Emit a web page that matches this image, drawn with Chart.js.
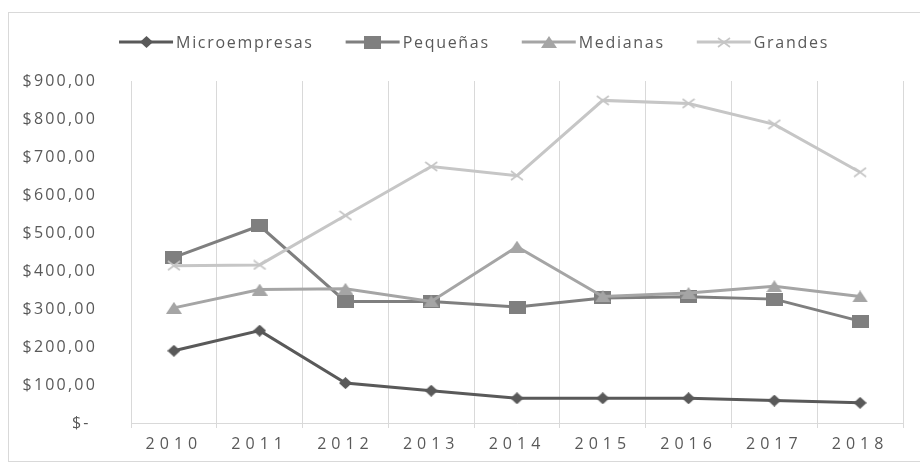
<!DOCTYPE html>
<html lang="es">
<head>
<meta charset="utf-8">
<title>Empresas 2010-2018</title>
<script src="https://cdn.jsdelivr.net/npm/chart.js@4/dist/chart.umd.min.js"></script>
<style>
  html, body { margin: 0; padding: 0; background: #fff; }
  canvas { display: block; }
</style>
</head>
<body>
<canvas id="empresasChart" width="920" height="463"></canvas>
<script>
// años y valores por tamaño de empresa
const years = ['2010', '2011', '2012', '2013', '2014', '2015', '2016', '2017', '2018'];
const microempresas = [190, 243, 105, 85, 65, 65, 65, 59, 53];
const pequenas = [436, 519, 320, 320, 305, 329, 332, 326, 268];
const medianas = [303, 351, 353, 320, 464, 333, 342, 360, 333];
const grandes = [414, 416, 546, 675, 651, 849, 841, 786, 660];
const seriesNames = ['Microempresas', 'Pequeñas', 'Medianas', 'Grandes'];
const yMax = 900;
const yStep = 100;

const textColor = '#595959';
const gridColor = '#d9d9d9';
Chart.defaults.font.family = '"Open Sans", sans-serif';
Chart.defaults.color = textColor;

// small canvases used as point markers (also reused in the legend)
function marker(shape, color, w, h) {
  const c = document.createElement('canvas');
  c.width = w;
  c.height = h;
  const g = c.getContext('2d');
  g.fillStyle = color;
  g.strokeStyle = color;
  g.beginPath();
  if (shape === 'diamond') {
    g.moveTo(w / 2, 0); g.lineTo(w, h / 2); g.lineTo(w / 2, h); g.lineTo(0, h / 2);
    g.closePath(); g.fill();
  } else if (shape === 'square') {
    g.fillRect(0, 0, w, h);
  } else if (shape === 'triangle') {
    g.moveTo(w / 2, 0); g.lineTo(w, h); g.lineTo(0, h);
    g.closePath(); g.fill();
  } else {
    g.lineWidth = 1.6;
    g.moveTo(1, 1); g.lineTo(w - 1, h - 1);
    g.moveTo(w - 1, 1); g.lineTo(1, h - 1);
    g.stroke();
  }
  return c;
}

function tickLabel(v) {
  if (v === 0) return '$- ';
  return '$' + v.toFixed(2).replace('.', ',');
}

// wider letter spacing for the axis labels
const labelSpacing = { x: '5px', y: '2.2px' };
const spacedLabels = {
  id: 'spacedLabels',
  beforeDraw(chart) {
    Object.keys(labelSpacing).forEach(id => {
      const s = chart.scales[id];
      if (!s || s._spaced) return;
      const draw = s.drawLabels.bind(s);
      s.drawLabels = area => {
        const prev = s.ctx.letterSpacing;
        s.ctx.letterSpacing = labelSpacing[id];
        draw(area);
        s.ctx.letterSpacing = prev;
      };
      s._spaced = true;
    });
  }
};

// light frame round the chart
const frame = {
  id: 'frame',
  beforeDraw(chart) {
    const ctx = chart.ctx;
    ctx.save();
    ctx.strokeStyle = gridColor;
    ctx.lineWidth = 1;
    ctx.strokeRect(8.5, 12.5, 940, 449);
    ctx.restore();
  }
};

// legend with a line sample and marker for each series
const lineLegend = {
  id: 'lineLegend',
  afterDraw(chart) {
    const ctx = chart.ctx;
    const sets = chart.data.datasets;
    const sample = 54, gap = 3, between = 32, y = 42, center = 474;
    ctx.save();
    ctx.font = '16px "Open Sans"';
    ctx.letterSpacing = '1.7px';
    ctx.textBaseline = 'middle';
    ctx.textAlign = 'left';
    const widths = sets.map(ds => sample + gap + ctx.measureText(ds.label).width);
    const total = widths.reduce((a, b) => a + b, 0) + between * (sets.length - 1);
    let x = center - total / 2;
    sets.forEach((ds, i) => {
      ctx.strokeStyle = ds.borderColor;
      ctx.lineWidth = 3;
      ctx.beginPath();
      ctx.moveTo(x, y);
      ctx.lineTo(x + sample, y);
      ctx.stroke();
      const m = ds.pointStyle;
      ctx.drawImage(m, Math.round(x + sample / 2 - m.width / 2), Math.round(y - m.height / 2));
      ctx.fillStyle = textColor;
      ctx.fillText(ds.label, x + sample + gap, y + 1);
      x += widths[i] + between;
    });
    ctx.restore();
  }
};

function series(label, values, color, shape, w, h, order) {
  return {
    label: label,
    data: values,
    borderColor: color,
    backgroundColor: color,
    borderWidth: 3,
    pointStyle: marker(shape, color, w, h),
    pointRadius: 7,
    pointHoverRadius: 7,
    tension: 0,
    order: order
  };
}

const ctx = document.getElementById('empresasChart').getContext('2d');

new Chart(ctx, {
  type: 'line',
  data: {
    labels: years,
    datasets: [
      series(seriesNames[0], microempresas, '#595959', 'diamond', 13, 12, 3),
      series(seriesNames[1], pequenas, '#7f7f7f', 'square', 17, 13, 2),
      series(seriesNames[2], medianas, '#a5a5a5', 'triangle', 16, 12, 1),
      series(seriesNames[3], grandes, '#c6c6c6', 'cross', 14, 11, 0)
    ]
  },
  options: {
    responsive: false,
    animation: false,
    devicePixelRatio: 1,
    layout: { padding: { left: 9, right: 17, top: 81, bottom: 0 } },
    plugins: {
      legend: { display: false },
      tooltip: { enabled: false }
    },
    scales: {
      x: {
        offset: true,
        grid: { offset: true, color: gridColor, lineWidth: 1, tickLength: 5 },
        border: { color: gridColor, width: 1 },
        ticks: { font: { size: 16 }, color: textColor, padding: 7 },
        afterFit(scale) { scale.height = 40; }
      },
      y: {
        min: 0,
        max: yMax,
        grid: { display: false },
        border: { display: false },
        ticks: {
          stepSize: yStep,
          font: { size: 16 },
          color: textColor,
          padding: 26,
          callback: v => tickLabel(v)
        },
        afterFit(scale) { scale.width = 122; }
      }
    }
  },
  plugins: [frame, spacedLabels, lineLegend]
});
</script>
</body>
</html>
